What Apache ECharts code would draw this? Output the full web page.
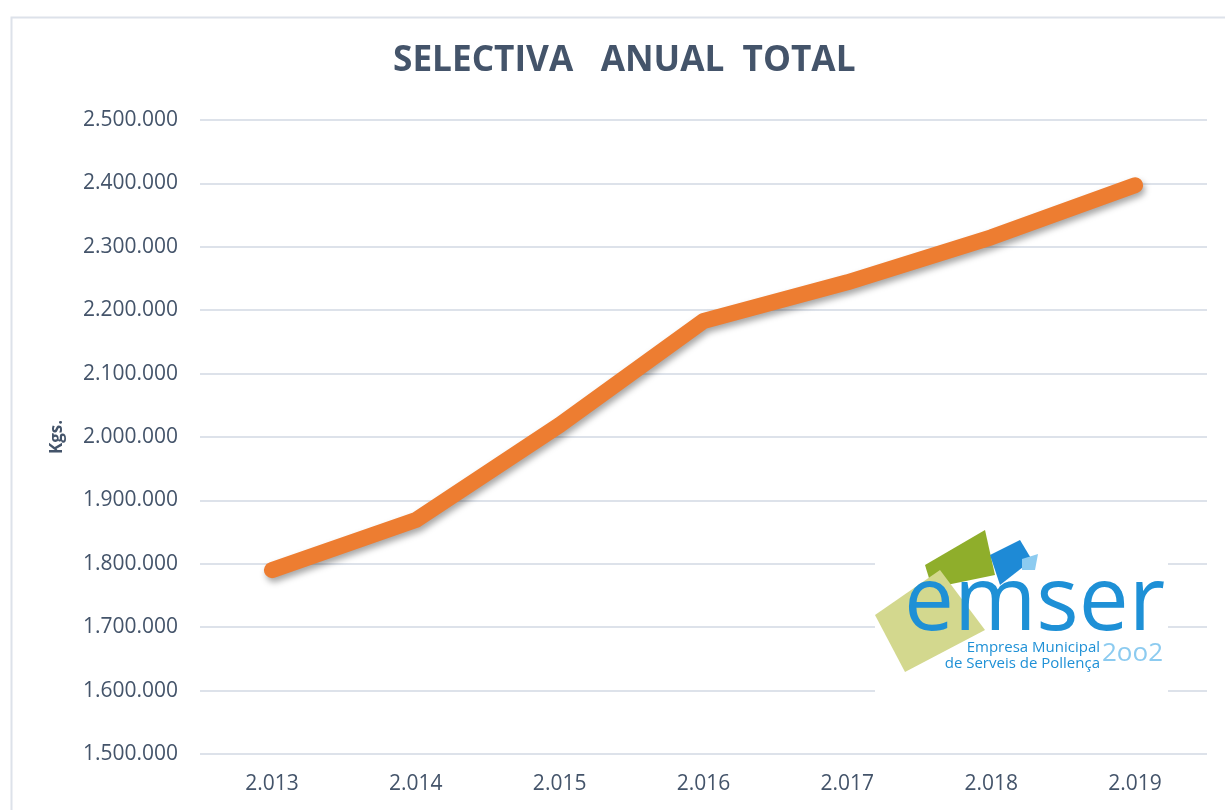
<!DOCTYPE html>
<html>
<head>
<meta charset="utf-8">
<script src="https://cdn.jsdelivr.net/npm/echarts@6/dist/echarts.min.js"></script>
<style>
  html, body { margin: 0; padding: 0; background: #fff; }
  #chart { width: 1225px; height: 810px; }
</style>
</head>
<body>
<div id="chart"></div>
<script>
var years = ['2.013', '2.014', '2.015', '2.016', '2.017', '2.018', '2.019'];
var selectiva = [1790000, 1869000, 2019000, 2183000, 2244000, 2315000, 2397000];
var yMin = 1500000, yMax = 2500000, yStep = 100000;

function fmtMiles(v) {
  return String(Math.round(v)).replace(/\B(?=(\d{3})+(?!\d))/g, '.');
}

var chart = echarts.init(document.getElementById('chart'));
var option = {
  animation: false,
  textStyle: { fontFamily: 'Open Sans, Lato, sans-serif' },
  title: {
    text: 'SELECTIVA   ANUAL  TOTAL',
    left: 388,
    top: 38,
    textStyle: { color: '#44546A', fontSize: 35.2, fontWeight: 'bold', fontFamily: 'Open Sans, sans-serif' }
  },
  grid: { left: 200, right: 18, top: 120, bottom: 56 },
  xAxis: {
    type: 'category',
    data: years,
    boundaryGap: true,
    axisLine: { show: false },
    axisTick: { show: false },
    axisLabel: { color: '#44546A', fontSize: 21, margin: 20 }
  },
  yAxis: {
    type: 'value',
    min: yMin,
    max: yMax,
    interval: yStep,
    name: 'Kgs.',
    nameLocation: 'middle',
    nameRotate: 90,
    nameGap: 134,
    nameTextStyle: { color: '#44546A', fontSize: 17, fontWeight: 'bold' },
    axisLine: { show: false },
    axisTick: { show: false },
    axisLabel: { color: '#44546A', fontSize: 21, margin: 22, formatter: fmtMiles },
    splitLine: { lineStyle: { color: '#DDE2EA', width: 2 } }
  },
  series: [{
    type: 'line',
    data: selectiva,
    symbol: 'none',
    lineStyle: {
      color: '#ED7D31', width: 16, cap: 'round', join: 'round',
      shadowColor: 'rgba(0,0,0,0.35)', shadowBlur: 6, shadowOffsetX: 2, shadowOffsetY: 4
    },
    z: 5
  }],
  graphic: [
    {
      type: 'rect', left: 9, top: 15, silent: true,
      shape: { width: 1230, height: 810 },
      style: { fill: 'none', stroke: '#DDE2EA', lineWidth: 2 }, z: -1
    },
    // logo
    {
      type: 'group', x: 872, y: 526,
      children: [
        { type: 'rect', z: 20, shape: { x: 3, y: 0, width: 293, height: 172 }, style: { fill: '#fff' } },
        { type: 'polygon', z: 21, shape: { points: [[53, 39], [113, 4], [123, 49], [60, 62]] }, style: { fill: '#8FAE2B' } },
        { type: 'polygon', z: 22, shape: { points: [[3, 89], [68, 44], [113, 104], [33, 146]] }, style: { fill: '#D3D88E' } },
        { type: 'polygon', z: 22, shape: { points: [[118, 29], [148, 14], [160, 34], [128, 59]] }, style: { fill: '#1E8AD6' } },
        { type: 'polygon', z: 22, shape: { points: [[150, 33], [166, 28], [163, 44], [150, 44]] }, style: { fill: '#8CCBF0' } },
        { type: 'text', z: 23, x: 32, y: 34, style: { text: 'emser', fill: '#1E90D6', font: '89px "Open Sans", sans-serif' } },
        { type: 'text', z: 23, x: 228, y: 114, style: { text: 'Empresa Municipal', align: 'right', fill: '#1E90D6', font: '15px "Open Sans", sans-serif' } },
        { type: 'text', z: 23, x: 228, y: 130, style: { text: 'de Serveis de Pollença', align: 'right', fill: '#1E90D6', font: '15px "Open Sans", sans-serif' } },
        { type: 'text', z: 23, x: 291, y: 115, style: { text: '2oo2', align: 'right', fill: '#8CCBF0', font: '26px "Open Sans", sans-serif' } }
      ]
    }
  ]
};
chart.setOption(option);
</script>
</body>
</html>
